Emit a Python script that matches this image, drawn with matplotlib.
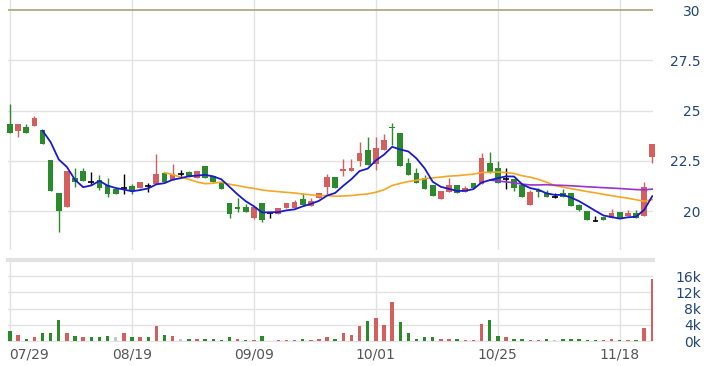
import numpy as np
import pandas as pd
import matplotlib
matplotlib.use("Agg")
import matplotlib.pyplot as plt
import matplotlib.transforms as mtransforms

# ---------------- data ----------------
opens = [24.33, 23.99, 24.16, 24.23, 24.03, 22.54, 20.91, 20.18, 21.66, 21.99,
         21.43, 21.54, 21.29, 21.10, 21.13, 21.26, 21.13, 21.24, 21.33, 21.88,
         21.54, 21.84, 21.93, 21.63, 22.25, 21.74, 21.45, 20.38, 20.18, 20.21,
         19.64, 20.38, 19.90, 19.84, 20.13, 20.16, 20.60, 20.25, 20.67, 21.18,
         21.71, 22.00, 21.99, 22.49, 23.03, 22.34, 23.03, 24.19, 23.90, 22.37,
         21.90, 21.63, 21.29, 20.62, 20.95, 21.29, 20.94, 21.41, 21.33, 22.37,
         22.15, 21.58, 21.58, 21.29, 20.30, 21.06, 20.88, 20.72, 20.88, 20.88,
         20.30, 20.00, 19.50, 19.72, 19.64, 19.94, 19.77, 19.89, 19.77, 22.70]

closes = [23.87, 24.31, 23.87, 24.64, 23.32, 21.00, 20.00, 22.00, 21.43, 21.51,
          21.43, 21.13, 20.83, 20.83, 21.13, 21.00, 21.43, 21.24, 21.84, 21.43,
          21.84, 21.84, 21.71, 21.99, 21.63, 21.46, 21.10, 19.84, 20.10, 19.94,
          20.21, 19.55, 19.90, 20.13, 20.38, 20.46, 20.30, 20.50, 20.90, 21.68,
          21.13, 22.09, 22.15, 22.90, 22.29, 23.15, 23.53, 24.11, 22.24, 21.79,
          21.41, 21.08, 20.76, 20.98, 21.29, 20.88, 21.14, 21.16, 22.62, 21.88,
          21.38, 21.58, 21.13, 20.68, 20.93, 20.96, 20.72, 20.72, 20.70, 20.26,
          20.05, 19.55, 19.50, 19.53, 19.89, 19.64, 19.89, 19.64, 21.21, 23.32]

highs = [25.32, 24.31, 24.31, 24.73, 24.03, 22.54, 20.91, 22.00, 22.15, 22.15,
         21.96, 21.79, 21.66, 21.10, 21.84, 21.33, 21.43, 21.38, 22.84, 21.88,
         22.34, 22.04, 22.00, 21.99, 22.25, 21.74, 21.45, 20.38, 20.63, 20.33,
         20.21, 20.38, 19.90, 20.13, 20.38, 20.53, 20.88, 20.65, 20.90, 21.83,
         21.71, 22.57, 22.57, 23.42, 23.70, 23.70, 23.82, 24.36, 23.90, 22.62,
         22.12, 21.79, 21.29, 20.98, 21.63, 21.29, 21.24, 21.41, 22.90, 22.95,
         22.50, 22.15, 21.58, 21.29, 21.04, 21.13, 21.04, 20.88, 21.08, 20.88,
         20.35, 20.00, 19.77, 19.72, 20.10, 19.94, 20.05, 20.05, 21.46, 23.32]

lows = [23.87, 23.67, 23.87, 24.23, 23.32, 21.00, 18.94, 20.18, 21.21, 21.51,
        21.29, 21.04, 20.71, 20.83, 20.85, 20.86, 21.13, 20.93, 21.33, 21.43,
        21.54, 21.71, 21.71, 21.63, 21.63, 21.46, 21.10, 19.67, 19.94, 19.94,
        19.60, 19.47, 19.64, 19.84, 20.13, 20.16, 20.30, 20.25, 20.67, 20.85,
        21.13, 21.76, 21.99, 22.24, 22.29, 22.04, 23.03, 23.28, 22.24, 21.79,
        21.41, 21.08, 20.76, 20.62, 20.95, 20.88, 20.94, 21.16, 21.33, 21.88,
        21.38, 21.09, 21.00, 20.68, 20.30, 20.71, 20.72, 20.63, 20.70, 20.26,
        19.98, 19.55, 19.50, 19.53, 19.64, 19.64, 19.77, 19.64, 19.77, 22.37]

volumes = [2460, 1500, 650, 1000, 1900, 1900, 5300, 1900, 1300, 1000,
           1000, 1000, 1200, 1000, 2100, 1000, 1000, 1000, 3800, 1600,
           1300, 600, 600, 600, 600, 600, 300, 1000, 600, 300,
           300, 1300, 150, 200, 200, 200, 600, 200, 600, 1000,
           600, 2100, 1600, 3800, 4900, 5700, 4100, 9600, 4700, 1900,
           650, 1000, 1000, 650, 650, 650, 250, 250, 4300, 5300,
           1300, 1000, 650, 650, 250, 250, 650, 250, 650, 650,
           650, 250, 250, 250, 650, 250, 250, 250, 3300, 15400]

date_ticks = [0, 15, 30, 45, 60, 75]
date_labels = ["07/29", "08/19", "09/09", "10/01", "10/25", "11/18"]
price_ticks = [20, 22.5, 25, 27.5, 30]
price_labels = ["20", "22.5", "25", "27.5", "30"]
vol_ticks = [0, 4000, 8000, 12000, 16000]
vol_labels = ["0k", "4k", "8k", "12k", "16k"]
top_limit = 30

# ---------------- style ----------------
RED = "#d35f5f"
GREEN = "#2b8a2b"
GREY = "#c9c9c9"
GRID = "#e2e2e2"
LABEL_BLUE = "#23467a"
DATE_GREY = "#555555"

W, H = 713, 366
fig = plt.figure(figsize=(W / 100, H / 100), dpi=100)
fig.patch.set_facecolor("white")

left_px, right_px = 8, 653
ax_p = fig.add_axes([left_px / W, 1 - 250 / H, (right_px - left_px) / W, 250 / H])
ax_v = fig.add_axes([left_px / W, 1 - 342 / H, (right_px - left_px) / W, 82 / H])

n = len(closes)
x = np.arange(n)
xlim = (-0.246, 79.09)

for ax in (ax_p, ax_v):
    ax.set_xlim(*xlim)
    for s in ax.spines.values():
        s.set_visible(False)
    ax.set_facecolor("white")
    for t in date_ticks:
        ax.axvline(t, color=GRID, lw=1.0, zorder=0)

# price panel
ax_p.set_ylim(30.5 - 250 / 20.1, 30.5)
for p in price_ticks[:-1]:
    ax_p.axhline(p, color=GRID, lw=1.0, zorder=0)
ax_p.axhline(top_limit, color="#a9a27c", lw=1.2, zorder=1)

bw = 0.7
for i in range(n):
    o, c, h, l = opens[i], closes[i], highs[i], lows[i]
    if c > o:
        col = RED
    elif c < o:
        col = GREEN
    else:
        col = "black"
    ax_p.vlines(i, l, h, color=col, lw=1.0, zorder=2, clip_on=False)
    if c == o:
        ax_p.hlines(c, i - bw / 2, i + bw / 2, color=col, lw=1.2, zorder=3, clip_on=False)
    else:
        ax_p.bar(i, abs(c - o), bottom=min(o, c), width=bw, color=col,
                 lw=0, zorder=3, clip_on=False)

cs = pd.Series(closes)
ax_p.plot(x, cs.rolling(20).mean(), color="#f5a623", lw=1.2, zorder=4)
ax_p.plot(x, cs.rolling(60).mean(), color="#9932cc", lw=1.2, zorder=4)
ax_p.plot(x, cs.rolling(5).mean(), color="#1a1acd", lw=1.3, zorder=5)

ax_p.set_xticks([])
ax_p.yaxis.tick_right()
ax_p.set_yticks(price_ticks)
ax_p.set_yticklabels(price_labels)
ax_p.tick_params(axis="y", length=0, pad=34.5, labelsize=10, labelcolor=LABEL_BLUE)
for lab in ax_p.get_yticklabels():
    lab.set_ha("right")

# volume panel
ax_v.set_ylim(-200, 20000)
for v in vol_ticks:
    ax_v.axhline(v, color=GRID, lw=1.0, zorder=0)
ax_v.axhline(20000, color=GRID, lw=3.0, zorder=0, clip_on=False)

vcols = []
for i in range(n):
    ref = opens[0] if i == 0 else closes[i - 1]
    if closes[i] > ref:
        vcols.append(RED)
    elif closes[i] < ref:
        vcols.append(GREEN)
    else:
        vcols.append(GREY)
ax_v.bar(x, volumes, width=0.42, color=vcols, lw=0, zorder=2)

ax_v.yaxis.tick_right()
ax_v.set_yticks(vol_ticks)
ax_v.set_yticklabels(vol_labels)
ax_v.tick_params(axis="y", length=0, pad=34.5, labelsize=10, labelcolor=LABEL_BLUE)
for lab in ax_v.get_yticklabels():
    lab.set_ha("right")

ax_v.set_xticks(date_ticks)
ax_v.set_xticklabels(date_labels)
ax_v.tick_params(axis="x", length=0, pad=4, labelsize=10, labelcolor=DATE_GREY)
labs = ax_v.get_xticklabels()
labs[0].set_ha("left")
offset = mtransforms.ScaledTranslation(-1 / 100, 0, fig.dpi_scale_trans)
labs[0].set_transform(labs[0].get_transform() + offset)

fig.savefig("out.png", dpi=100, facecolor="white")
